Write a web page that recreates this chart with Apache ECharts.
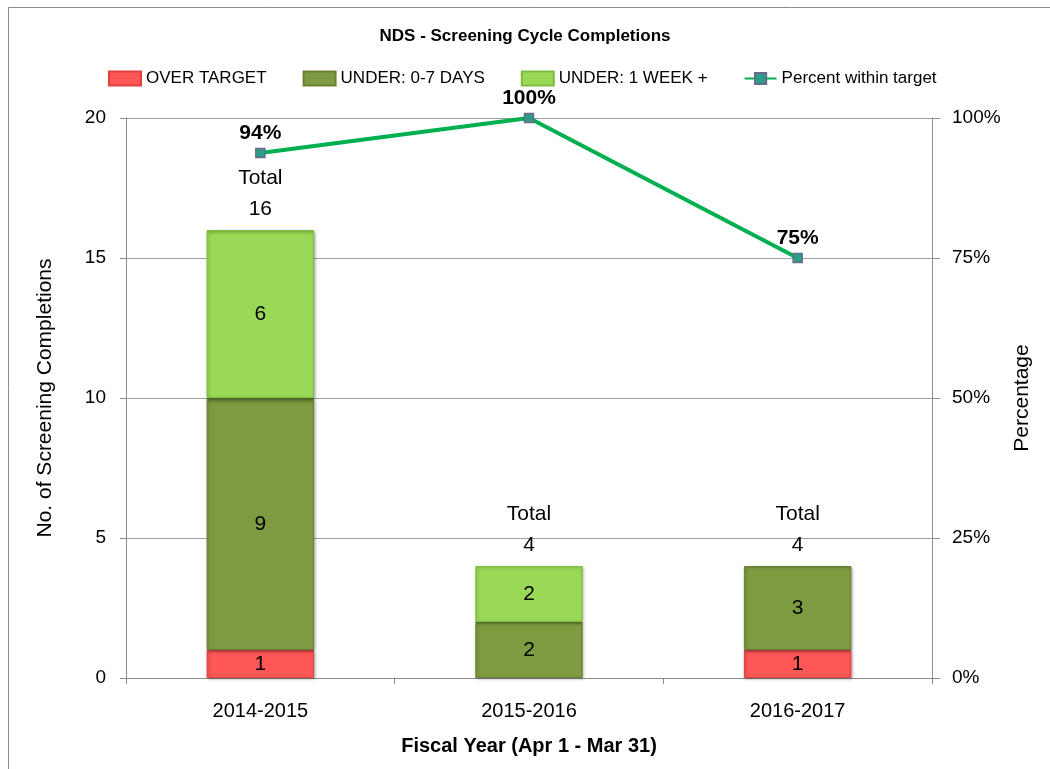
<!DOCTYPE html>
<html>
<head>
<meta charset="utf-8">
<script src="https://cdn.jsdelivr.net/npm/echarts@6/dist/echarts.min.js"></script>
<style>
  html, body { margin: 0; padding: 0; background: #fff; }
  #chart { width: 1050px; height: 769px; }
</style>
</head>
<body>
<div id="chart"></div>
<script>
const years = ["2014-2015", "2015-2016", "2016-2017"];
const overTarget = [1, 0, 1];
const under07 = [9, 2, 3];
const underWeek = [6, 2, 0];
const pctWithin = [0.9375, 1, 0.75];
const leftTicks = [0, 5, 10, 15, 20];

const totals = years.map((y, i) => overTarget[i] + under07[i] + underWeek[i]);
// zero-height segments are not drawn
const noZero = (arr) => arr.map((v) => (v === 0 ? null : v));
const font = "Liberation Sans";

const chart = echarts.init(document.getElementById("chart"));

function barStyle(main, edge) {
  return {
    color: {
      type: "linear", x: 0, y: 0, x2: 0, y2: 1,
      colorStops: [
        { offset: 0, color: edge },
        { offset: 0.03, color: main },
        { offset: 1, color: main },
      ],
    },
    borderColor: edge,
    borderWidth: 1,
    shadowColor: "rgba(0,0,0,0.3)",
    shadowBlur: 3,
    shadowOffsetX: 1,
    shadowOffsetY: 1,
  };
}

const segLabel = {
  show: true,
  position: "inside",
  fontFamily: font,
  fontSize: 21,
  color: "#000",
};

const options = {
  animation: false,
  textStyle: { fontFamily: font },
  title: {
    text: "NDS - Screening Cycle Completions",
    left: "center",
    top: 23,
    textStyle: { fontFamily: font, fontSize: 17, fontWeight: "bold", color: "#000" },
  },
  graphic: [
    {
      type: "rect",
      shape: { x: 8.5, y: 7.5, width: 1100, height: 800 },
      style: { fill: "none", stroke: "#8c8c8c", lineWidth: 1 },
    },
  ],
  legend: {
    top: 65,
    left: 103,
    itemWidth: 32,
    itemHeight: 14,
    itemGap: 36,
    textStyle: { fontFamily: font, fontSize: 17, color: "#000" },
    data: [
      { name: "OVER TARGET", icon: "rect" },
      { name: "UNDER: 0-7 DAYS", icon: "rect" },
      { name: "UNDER: 1 WEEK +", icon: "rect" },
      { name: "Percent within target" },
    ],
  },
  grid: { left: 126, right: 118, top: 118, bottom: 91 },
  xAxis: {
    type: "category",
    data: years,
    axisLine: { lineStyle: { color: "#8c8c8c" } },
    axisTick: { show: true, length: 6, lineStyle: { color: "#8c8c8c" } },
    axisLabel: { fontFamily: font, fontSize: 20, color: "#000", margin: 23 },
    name: "Fiscal Year (Apr 1 - Mar 31)",
    nameLocation: "middle",
    nameGap: 58,
    nameTextStyle: { fontFamily: font, fontSize: 20, fontWeight: "bold", color: "#000" },
  },
  yAxis: [
    {
      type: "value",
      min: leftTicks[0],
      max: leftTicks[leftTicks.length - 1],
      interval: leftTicks[1] - leftTicks[0],
      axisLine: { show: true, lineStyle: { color: "#8c8c8c" } },
      axisTick: { show: true, length: 6, lineStyle: { color: "#8c8c8c" } },
      splitLine: { lineStyle: { color: "#a0a0a0" } },
      axisLabel: { fontFamily: font, fontSize: 19, color: "#000", margin: 20 },
      name: "No. of Screening Completions",
      nameLocation: "middle",
      nameGap: 70,
      nameTextStyle: { fontFamily: font, fontSize: 21, color: "#000" },
    },
    {
      type: "value",
      min: 0,
      max: 1,
      interval: 0.25,
      axisLine: { show: true, lineStyle: { color: "#8c8c8c" } },
      axisTick: { show: true, length: 8, lineStyle: { color: "#8c8c8c" } },
      splitLine: { show: false },
      axisLabel: {
        fontFamily: font, fontSize: 19, color: "#000", margin: 20,
        formatter: (v) => Math.round(v * 100) + "%",
      },
      name: "Percentage",
      nameLocation: "middle",
      nameGap: 80,
      nameRotate: 90,
      nameTextStyle: { fontFamily: font, fontSize: 21, color: "#000" },
    },
  ],
  series: [
    {
      name: "OVER TARGET",
      type: "bar",
      stack: "c",
      barWidth: "40%",
      data: noZero(overTarget),
      itemStyle: barStyle("#ff5656", "#e04040"),
      label: segLabel,
    },
    {
      name: "UNDER: 0-7 DAYS",
      type: "bar",
      stack: "c",
      data: noZero(under07),
      itemStyle: barStyle("#7f9b42", "#6a8434"),
      label: segLabel,
    },
    {
      name: "UNDER: 1 WEEK +",
      type: "bar",
      stack: "c",
      data: noZero(underWeek),
      itemStyle: barStyle("#9ad957", "#7fbd40"),
      label: segLabel,
    },
    {
      name: "Total",
      type: "scatter",
      data: totals,
      symbolSize: 1,
      itemStyle: { color: "rgba(0,0,0,0)" },
      silent: true,
      label: {
        show: true,
        position: "top",
        distance: 5,
        fontFamily: font,
        fontSize: 21,
        lineHeight: 31,
        color: "#000",
        opacity: 1,
        formatter: (p) => "Total\n" + p.value,
      },
    },
    {
      name: "Percent within target",
      type: "line",
      yAxisIndex: 1,
      data: pctWithin,
      symbol: "rect",
      symbolSize: 9,
      itemStyle: { color: "#2d9e86", borderColor: "#6a6a8a", borderWidth: 1.5 },
      lineStyle: { color: "#00b050", width: 4 },
      z: 5,
      label: {
        show: true,
        position: "top",
        distance: 4,
        fontFamily: font,
        fontSize: 21,
        fontWeight: "bold",
        color: "#000",
        formatter: (p) => Math.round(p.value * 100) + "%",
      },
    },
  ],
};

chart.setOption(options);
</script>
</body>
</html>
